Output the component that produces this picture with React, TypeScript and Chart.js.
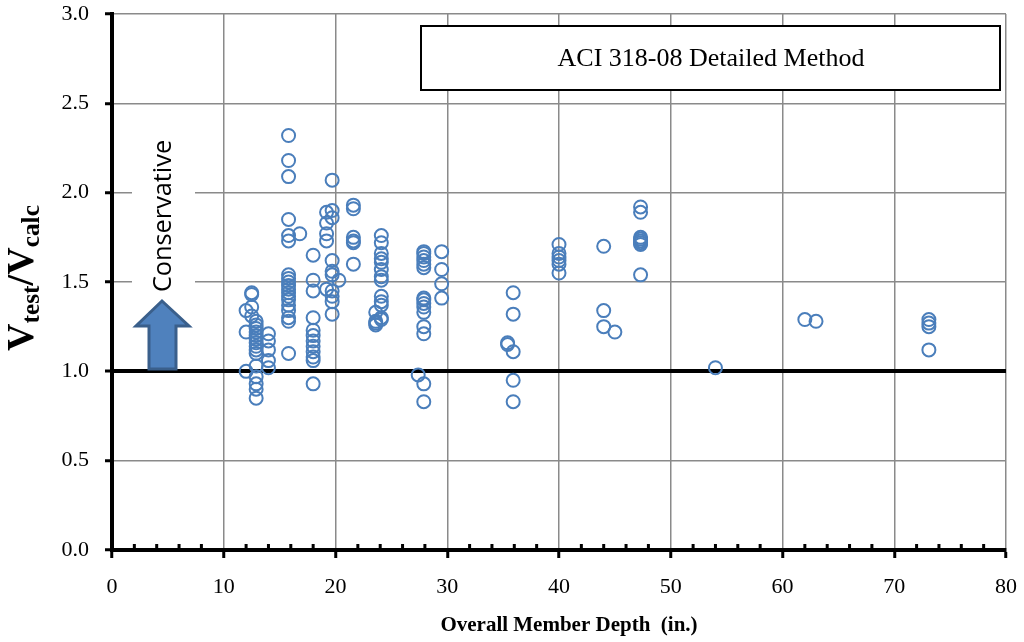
import React, { useEffect, useRef } from 'react';
import { Chart, registerables } from 'chart.js';

Chart.register(...registerables);

// Overall member depth (in.) of each column of tests
const groupDepths = [12.0, 12.5, 12.9, 14.0, 15.8, 16.8, 18.0, 19.2, 19.7, 20.3, 21.6, 23.6, 24.1, 27.4, 27.9, 29.5, 35.4, 35.9, 40.0, 44.0, 45.0, 47.3, 54.0, 62.0, 63.0, 73.1];
// Vtest/Vcalc values for each depth above
const groupRatios = [
  [1.34, 1.22, 1.0],
  [1.44, 1.43, 1.36, 1.31],
  [1.28, 1.26, 1.24, 1.22, 1.2, 1.18, 1.16, 1.14, 1.12, 1.1, 1.03, 0.97, 0.93, 0.9, 0.85],
  [1.21, 1.17, 1.12, 1.06, 1.02],
  [2.32, 2.18, 2.09, 1.85, 1.76, 1.73, 1.54, 1.52, 1.5, 1.48, 1.46, 1.44, 1.42, 1.4, 1.37, 1.34, 1.3, 1.28, 1.1],
  [1.77],
  [1.65, 1.51, 1.45, 1.3, 1.23, 1.2, 1.17, 1.14, 1.11, 1.08, 1.06, 0.93],
  [1.89, 1.83, 1.77, 1.73, 1.46],
  [2.07, 1.9, 1.86, 1.62, 1.56, 1.54, 1.45, 1.42, 1.39, 1.32],
  [1.51],
  [1.93, 1.91, 1.75, 1.73, 1.72, 1.6],
  [1.33, 1.28, 1.27, 1.26],
  [1.76, 1.72, 1.66, 1.63, 1.61, 1.57, 1.53, 1.51, 1.42, 1.39, 1.37, 1.3, 1.29],
  [0.98],
  [1.67, 1.66, 1.64, 1.62, 1.6, 1.58, 1.41, 1.4, 1.38, 1.36, 1.33, 1.25, 1.21, 0.93, 0.83],
  [1.67, 1.57, 1.49, 1.41],
  [1.16, 1.15],
  [1.44, 1.32, 1.11, 0.95, 0.83],
  [1.71, 1.66, 1.64, 1.62, 1.6, 1.55],
  [1.7, 1.34, 1.25],
  [1.22],
  [1.92, 1.89, 1.75, 1.74, 1.73, 1.72, 1.71, 1.54],
  [1.02],
  [1.29],
  [1.28],
  [1.29, 1.27, 1.25, 1.12],
];

const xTickMin = 0;
const xTickMax = 80;
const xTickStep = 10;
const xMinorStep = 2;
const yTickMin = 0;
const yTickMax = 3;
const yTickStep = 0.5;
const referenceRatio = 1.0;

const legendText = 'ACI 318-08 Detailed Method';
const conservativeText = 'Conservative';
const xTitle = 'Overall Member Depth  (in.)';

const SERIF = '"Liberation Serif", "Times New Roman", serif';

const zeroPadding = (s: any) => {
  s.paddingTop = 0;
  s.paddingBottom = 0;
  s.paddingLeft = 0;
  s.paddingRight = 0;
};

const decorPlugin = {
  id: 'decor',
  afterDraw(chart: any) {
    const ctx = chart.ctx as CanvasRenderingContext2D;
    const xs = chart.scales.x;
    const area = chart.chartArea;

    // minor ticks on x axis (inside)
    ctx.save();
    ctx.fillStyle = '#000';
    for (let v = xTickMin; v <= xTickMax; v += xMinorStep) {
      if (v % xTickStep === 0) continue;
      const px = xs.getPixelForValue(v);
      ctx.fillRect(px - 1.5, area.bottom - 6, 3, 5);
    }
    ctx.restore();

    // legend box
    ctx.save();
    ctx.fillStyle = '#fff';
    ctx.fillRect(421, 26, 579, 64);
    ctx.strokeStyle = '#000';
    ctx.lineWidth = 2;
    ctx.strokeRect(421, 26, 579, 64);
    ctx.fillStyle = '#000';
    ctx.font = '26px ' + SERIF;
    ctx.textAlign = 'center';
    ctx.textBaseline = 'middle';
    ctx.fillText(legendText, 711, 59);
    ctx.restore();

    // Conservative label
    ctx.save();
    ctx.fillStyle = '#fff';
    ctx.fillRect(132, 128, 63, 170);
    ctx.translate(171, 216);
    ctx.rotate(-Math.PI / 2);
    ctx.font = '23px "Open Sans", "Liberation Sans", sans-serif';
    const w = ctx.measureText(conservativeText).width;
    const size = 23 * (152 / w);
    ctx.font = size.toFixed(1) + 'px "Open Sans", "Liberation Sans", sans-serif';
    ctx.fillStyle = '#000';
    ctx.textAlign = 'center';
    ctx.textBaseline = 'alphabetic';
    ctx.fillText(conservativeText, 0, 0);
    ctx.restore();

    // Arrow
    ctx.save();
    ctx.beginPath();
    ctx.moveTo(162, 301);
    ctx.lineTo(189, 326);
    ctx.lineTo(176, 326);
    ctx.lineTo(176, 369);
    ctx.lineTo(149, 369);
    ctx.lineTo(149, 326);
    ctx.lineTo(136, 326);
    ctx.closePath();
    ctx.fillStyle = '#4F81BD';
    ctx.fill();
    ctx.strokeStyle = '#3A5F8B';
    ctx.lineWidth = 3;
    ctx.lineJoin = 'miter';
    ctx.stroke();
    ctx.restore();

    // Y axis title with subscripts
    ctx.save();
    ctx.translate(33, 278);
    ctx.rotate(-Math.PI / 2);
    ctx.fillStyle = '#000';
    ctx.textBaseline = 'alphabetic';
    ctx.textAlign = 'left';
    const segs = [
      { t: 'V', big: true },
      { t: 'test', big: false },
      { t: '/V', big: true },
      { t: 'calc', big: false },
    ];
    const len = 146;
    const measure = (k: number) => {
      let tot = 0;
      segs.forEach((s) => {
        ctx.font = 'bold ' + (s.big ? 27 * k : 18 * k).toFixed(1) + 'px ' + SERIF;
        tot += ctx.measureText(s.t).width;
      });
      return tot;
    };
    const k = len / measure(1);
    let cx = -len / 2;
    segs.forEach((s) => {
      ctx.font = 'bold ' + (s.big ? 27 * k : 18 * k).toFixed(1) + 'px ' + SERIF;
      ctx.fillText(s.t, cx, s.big ? 0 : 6);
      cx += ctx.measureText(s.t).width;
    });
    ctx.restore();

    // X axis title
    ctx.save();
    ctx.fillStyle = '#000';
    ctx.font = 'bold 21px ' + SERIF;
    ctx.textAlign = 'center';
    ctx.textBaseline = 'alphabetic';
    ctx.fillText(xTitle, 569, 631);
    ctx.restore();
  },
};

export default function App() {
  const ref = useRef<HTMLCanvasElement | null>(null);

  useEffect(() => {
    if (!ref.current) return;
    const points: { x: number; y: number }[] = [];
    groupDepths.forEach((d, i) => {
      groupRatios[i].forEach((r) => points.push({ x: d, y: r }));
    });

    const chart = new Chart(ref.current, {
      type: 'scatter',
      data: {
        datasets: [
          {
            data: points,
            pointRadius: 6.5,
            pointBorderWidth: 2,
            pointStyle: 'circle',
            borderColor: '#4A7EBB',
            backgroundColor: 'rgba(0,0,0,0)',
          },
        ],
      },
      options: {
        animation: false,
        responsive: false,
        maintainAspectRatio: false,
        layout: { padding: { top: 14, right: 18, left: 0, bottom: 0 } },
        plugins: { legend: { display: false }, tooltip: { enabled: false } },
        scales: {
          x: {
            type: 'linear',
            min: xTickMin,
            max: xTickMax,
            ticks: {
              stepSize: xTickStep,
              color: '#000',
              font: { family: SERIF, size: 22 },
              padding: 16,
              maxRotation: 0,
            },
            grid: {
              color: '#8A8A8A',
              lineWidth: 1.5,
              tickLength: 8,
              tickColor: '#000',
              tickWidth: 3,
            },
            border: { color: '#000', width: 4 },
            afterFit: (s: any) => {
              s.height = 92;
              zeroPadding(s);
            },
          },
          y: {
            type: 'linear',
            min: yTickMin,
            max: yTickMax,
            ticks: {
              stepSize: yTickStep,
              color: '#000',
              font: { family: SERIF, size: 22 },
              padding: 16,
              callback: (v: any) => Number(v).toFixed(1),
            },
            grid: {
              color: (c: any) => (c.tick && Math.abs(c.tick.value - referenceRatio) < 1e-6 ? '#000' : '#8A8A8A'),
              lineWidth: (c: any) => (c.tick && Math.abs(c.tick.value - referenceRatio) < 1e-6 ? 4 : 1.5),
              tickLength: 7,
              tickColor: '#000',
              tickWidth: 3,
            },
            border: { color: '#000', width: 4 },
            afterFit: (s: any) => {
              s.width = 112;
              zeroPadding(s);
            },
          },
        },
      },
      plugins: [decorPlugin],
    });
    return () => chart.destroy();
  }, []);

  return (
    <div style={{ position: 'fixed', left: 0, top: 0, width: 1024, height: 642, background: '#fff' }}>
      <canvas ref={ref} width={1024} height={642} style={{ display: 'block', width: 1024, height: 642 }} />
    </div>
  );
}
